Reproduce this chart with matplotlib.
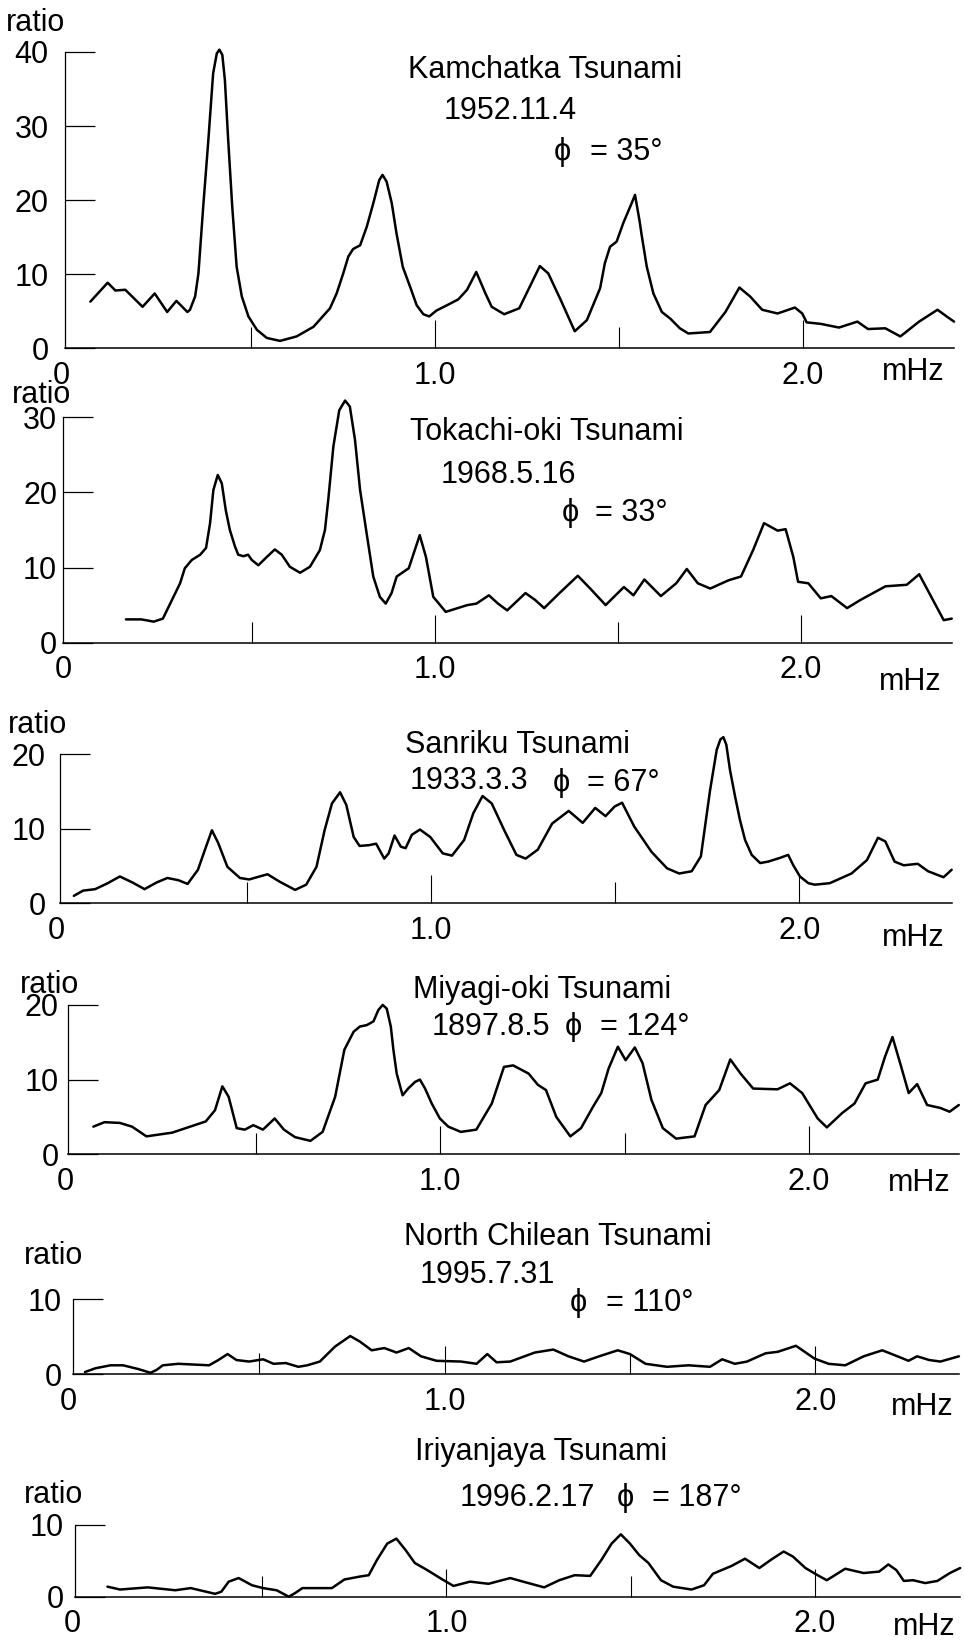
import matplotlib
matplotlib.use('Agg')
import matplotlib.pyplot as plt
from matplotlib.transforms import ScaledTranslation

plt.rcParams['font.family'] = ['Liberation Sans', 'DejaVu Sans']

W, H = 964, 1641

# ---------------- data (frequency in mHz, spectral ratio) ----------------
kam_f = [0.062, 0.109, 0.130, 0.157, 0.204, 0.237, 0.271, 0.296, 0.326, 0.333, 0.347, 0.356, 0.369,
         0.383, 0.396, 0.406, 0.413, 0.421, 0.428, 0.437, 0.448, 0.460, 0.474, 0.492, 0.515, 0.542,
         0.578, 0.623, 0.669, 0.714, 0.732, 0.750, 0.764, 0.777, 0.796, 0.814, 0.832, 0.848, 0.857,
         0.868, 0.882, 0.895, 0.912, 0.932, 0.950, 0.968, 0.984, 1.004, 1.032, 1.063, 1.087, 1.112,
         1.137, 1.154, 1.188, 1.229, 1.285, 1.308, 1.342, 1.380, 1.413, 1.449, 1.462, 1.476, 1.494,
         1.512, 1.535, 1.544, 1.556, 1.562, 1.576, 1.594, 1.617, 1.640, 1.666, 1.689, 1.748, 1.790,
         1.828, 1.857, 1.890, 1.932, 1.979, 1.999, 2.011, 2.049, 2.099, 2.149, 2.178, 2.225, 2.266,
         2.317, 2.367, 2.392, 2.412]
kam_r = [6.3, 8.85, 7.8, 7.9, 5.6, 7.4, 4.9, 6.4, 4.9, 5.2, 7.0, 10.1, 19.1,
         28.1, 37.1, 39.8, 40.3, 39.6, 36.2, 28.1, 19.1, 11.0, 7.0, 4.3, 2.5, 1.4,
         1.0, 1.6, 2.9, 5.4, 7.4, 10.1, 12.4, 13.4, 13.9, 16.4, 19.6, 22.7, 23.4,
         22.5, 19.6, 15.5, 11.0, 8.3, 5.8, 4.6, 4.3, 5.1, 5.8, 6.6, 7.9, 10.3,
         7.4, 5.6, 4.6, 5.4, 11.1, 10.1, 6.5, 2.3, 3.8, 8.1, 11.5, 13.7, 14.4,
         16.9, 19.6, 20.7, 17.3, 15.3, 11.0, 7.4, 4.9, 4.0, 2.7, 2.0, 2.2, 4.9,
         8.2, 7.0, 5.2, 4.7, 5.5, 4.7, 3.5, 3.3, 2.8, 3.6, 2.6, 2.7, 1.6,
         3.6, 5.2, 4.3, 3.6]

tok_f = [0.155, 0.197, 0.231, 0.256, 0.303, 0.316, 0.335, 0.358, 0.374, 0.385, 0.394, 0.406, 0.417,
         0.428, 0.439, 0.453, 0.462, 0.476, 0.489, 0.499, 0.517, 0.540, 0.562, 0.581, 0.603, 0.631,
         0.658, 0.685, 0.699, 0.708, 0.722, 0.738, 0.754, 0.767, 0.781, 0.795, 0.813, 0.831, 0.849,
         0.865, 0.881, 0.895, 0.928, 0.958, 0.975, 0.995, 1.029, 1.088, 1.113, 1.147, 1.172, 1.197,
         1.247, 1.273, 1.298, 1.340, 1.390, 1.424, 1.466, 1.516, 1.542, 1.572, 1.617, 1.659, 1.688,
         1.718, 1.752, 1.802, 1.836, 1.869, 1.899, 1.936, 1.958, 1.979, 1.992, 2.020, 2.054, 2.083,
         2.126, 2.163, 2.231, 2.289, 2.323, 2.356, 2.390, 2.412]
tok_r = [3.1, 3.1, 2.8, 3.2, 7.9, 9.9, 11.0, 11.7, 12.6, 15.9, 20.3, 22.3, 21.2,
         17.6, 15.0, 12.8, 11.7, 11.5, 11.7, 11.0, 10.3, 11.4, 12.4, 11.7, 10.1, 9.3,
         10.1, 12.3, 15.0, 19.0, 26.1, 30.9, 32.2, 31.4, 27.0, 20.3, 14.5, 8.8, 6.1,
         5.2, 6.6, 8.8, 9.9, 14.3, 11.4, 6.1, 4.1, 5.0, 5.2, 6.3, 5.2, 4.3,
         6.6, 5.7, 4.6, 6.6, 8.9, 7.2, 5.0, 7.4, 6.3, 8.4, 6.2, 7.9, 9.8,
         7.9, 7.2, 8.3, 8.8, 12.3, 15.9, 14.9, 15.1, 11.4, 8.1, 7.9, 5.9, 6.2,
         4.6, 5.7, 7.5, 7.7, 9.1, 6.1, 3.0, 3.2]

san_f = [0.030, 0.055, 0.088, 0.122, 0.155, 0.189, 0.222, 0.255, 0.284, 0.314, 0.339, 0.367, 0.389,
         0.405, 0.422, 0.447, 0.481, 0.506, 0.556, 0.589, 0.631, 0.661, 0.689, 0.711, 0.731, 0.753,
         0.770, 0.790, 0.806, 0.831, 0.851, 0.873, 0.885, 0.901, 0.918, 0.931, 0.948, 0.970, 0.998,
         1.032, 1.057, 1.090, 1.115, 1.140, 1.165, 1.199, 1.232, 1.257, 1.290, 1.329, 1.374, 1.412,
         1.446, 1.474, 1.499, 1.519, 1.552, 1.599, 1.641, 1.674, 1.708, 1.733, 1.758, 1.776, 1.786,
         1.794, 1.802, 1.812, 1.826, 1.839, 1.853, 1.871, 1.894, 1.916, 1.948, 1.970, 1.984, 2.002,
         2.025, 2.042, 2.083, 2.142, 2.184, 2.214, 2.234, 2.259, 2.284, 2.322, 2.350, 2.392, 2.414]
san_r = [1.0, 1.7, 1.9, 2.7, 3.6, 2.8, 1.9, 2.8, 3.4, 3.1, 2.6, 4.5, 7.6,
         9.8, 8.1, 4.9, 3.4, 3.2, 3.9, 2.9, 1.8, 2.5, 4.9, 9.8, 13.4, 14.9,
         13.2, 8.9, 7.7, 7.8, 8.0, 6.0, 6.7, 9.1, 7.6, 7.4, 9.2, 9.9, 8.9,
         6.7, 6.4, 8.5, 12.1, 14.4, 13.4, 9.8, 6.5, 6.0, 7.2, 10.7, 12.4, 10.8,
         12.8, 11.7, 13.0, 13.5, 10.3, 6.9, 4.7, 4.0, 4.3, 6.3, 15.2, 20.6, 22.0,
         22.3, 21.3, 17.9, 14.3, 11.2, 8.5, 6.5, 5.4, 5.6, 6.1, 6.5, 5.1, 3.6,
         2.7, 2.5, 2.7, 4.0, 5.8, 8.8, 8.3, 5.6, 5.1, 5.3, 4.3, 3.5, 4.5]

miy_f = [0.059, 0.089, 0.131, 0.164, 0.203, 0.273, 0.364, 0.389, 0.409, 0.426, 0.448, 0.470, 0.493,
         0.519, 0.551, 0.576, 0.606, 0.648, 0.681, 0.715, 0.740, 0.765, 0.782, 0.801, 0.819, 0.832,
         0.844, 0.855, 0.866, 0.873, 0.882, 0.898, 0.913, 0.932, 0.945, 0.959, 0.977, 0.999, 1.022,
         1.056, 1.098, 1.140, 1.173, 1.198, 1.240, 1.265, 1.287, 1.315, 1.353, 1.382, 1.415, 1.437,
         1.457, 1.482, 1.503, 1.528, 1.549, 1.573, 1.604, 1.640, 1.690, 1.720, 1.757, 1.787, 1.815,
         1.849, 1.915, 1.949, 1.982, 2.024, 2.049, 2.090, 2.124, 2.154, 2.187, 2.207, 2.227, 2.249,
         2.271, 2.294, 2.321, 2.357, 2.382, 2.407]
miy_r = [3.7, 4.3, 4.2, 3.7, 2.4, 2.9, 4.4, 5.9, 9.1, 7.7, 3.5, 3.3, 3.9,
         3.3, 4.8, 3.3, 2.3, 1.8, 3.0, 7.7, 14.0, 16.4, 17.1, 17.3, 17.8, 19.3,
         20.0, 19.5, 17.1, 14.0, 10.8, 7.9, 8.8, 9.7, 10.0, 8.8, 6.8, 4.8, 3.7,
         3.0, 3.3, 6.8, 11.7, 11.9, 10.8, 9.3, 8.6, 5.0, 2.4, 3.5, 6.4, 8.2,
         11.5, 14.4, 12.6, 14.3, 12.2, 7.3, 3.5, 2.1, 2.4, 6.6, 8.6, 12.7, 10.8,
         8.8, 8.7, 9.5, 8.2, 4.8, 3.6, 5.5, 6.8, 9.5, 10.0, 13.1, 15.7, 12.0,
         8.2, 9.4, 6.6, 6.2, 5.7, 6.6]

chi_f = [0.029, 0.057, 0.098, 0.132, 0.173, 0.206, 0.223, 0.239, 0.281, 0.364, 0.389, 0.414, 0.438,
         0.472, 0.510, 0.538, 0.571, 0.605, 0.629, 0.663, 0.704, 0.745, 0.770, 0.803, 0.837, 0.870,
         0.903, 0.936, 0.978, 1.044, 1.086, 1.115, 1.140, 1.177, 1.243, 1.293, 1.334, 1.376, 1.417,
         1.467, 1.500, 1.542, 1.600, 1.658, 1.716, 1.749, 1.783, 1.816, 1.866, 1.899, 1.948, 1.998,
         2.036, 2.081, 2.131, 2.181, 2.222, 2.252, 2.275, 2.308, 2.338, 2.388]
chi_r = [0.3, 0.8, 1.2, 1.2, 0.7, 0.2, 0.6, 1.2, 1.4, 1.2, 1.9, 2.7, 1.9,
         1.7, 2.0, 1.4, 1.5, 1.0, 1.2, 1.7, 3.7, 5.1, 4.4, 3.2, 3.5, 2.9,
         3.5, 2.4, 1.8, 1.7, 1.4, 2.7, 1.6, 1.7, 2.9, 3.3, 2.4, 1.7, 2.4,
         3.2, 2.7, 1.4, 1.0, 1.2, 1.0, 2.0, 1.4, 1.7, 2.8, 3.0, 3.8, 2.1,
         1.4, 1.2, 2.4, 3.2, 2.4, 1.8, 2.4, 1.9, 1.7, 2.4]

iri_f = [0.080, 0.114, 0.189, 0.264, 0.306, 0.339, 0.372, 0.389, 0.409, 0.436, 0.472, 0.502, 0.539,
         0.572, 0.589, 0.609, 0.647, 0.689, 0.723, 0.764, 0.789, 0.811, 0.839, 0.864, 0.889, 0.914,
         0.948, 0.989, 1.019, 1.064, 1.114, 1.173, 1.215, 1.265, 1.306, 1.348, 1.390, 1.420, 1.448,
         1.473, 1.498, 1.523, 1.548, 1.582, 1.615, 1.665, 1.699, 1.723, 1.774, 1.810, 1.849, 1.882,
         1.915, 1.940, 1.974, 2.007, 2.032, 2.082, 2.132, 2.174, 2.199, 2.221, 2.241, 2.266, 2.299,
         2.332, 2.366, 2.394]
iri_r = [1.4, 1.0, 1.3, 0.9, 1.2, 0.8, 0.4, 0.7, 2.1, 2.6, 1.6, 1.2, 0.9,
         0.0, 0.5, 1.2, 1.2, 1.2, 2.4, 2.8, 3.0, 5.1, 7.4, 8.1, 6.5, 4.7,
         3.7, 2.4, 1.5, 2.1, 1.8, 2.6, 2.0, 1.3, 2.3, 3.0, 2.9, 5.1, 7.4,
         8.7, 7.4, 5.8, 4.7, 2.3, 1.4, 1.0, 1.6, 3.2, 4.3, 5.3, 4.0, 5.2,
         6.3, 5.6, 4.0, 3.0, 2.3, 3.9, 3.3, 3.5, 4.5, 3.7, 2.2, 2.3, 1.9,
         2.2, 3.3, 4.0]

freqs = [kam_f, tok_f, san_f, miy_f, chi_f, iri_f]
ratios = [kam_r, tok_r, san_r, miy_r, chi_r, iri_r]
titles = ['Kamchatka Tsunami', 'Tokachi-oki Tsunami', 'Sanriku Tsunami',
          'Miyagi-oki Tsunami', 'North Chilean Tsunami', 'Iriyanjaya Tsunami']
dates = ['1952.11.4', '1968.5.16', '1933.3.3', '1897.8.5', '1995.7.31', '1996.2.17']
azimuths = [35, 33, 67, 124, 110, 187]
yticks_list = [[0, 10, 20, 30, 40], [0, 10, 20, 30], [0, 10, 20], [0, 10, 20], [0, 10], [0, 10]]
xtick_major = [0, 1.0, 2.0]
xtick_labels = ['0', '1.0', '2.0']
xtick_minor = [0.5, 1.5]

# ---------------- layout (pixels) ----------------
layout = [
    dict(left=64.7, zero=67.6, slope=367.5, right=954, base=348.3, ppu=7.41, ytop=42, ypad=11.5,
         title=(545, 70), date=(510, 111), phi=(562, 152), eq=(590, 152), ratio=(36, 23), mhz=(913, 372)),
    dict(left=63.4, zero=69.2, slope=365.9, right=952, base=642.7, ppu=7.52, ytop=33, ypad=4.5,
         title=(547, 432), date=(508, 475), phi=(570, 513), eq=(595, 513), ratio=(42, 395), mhz=(910, 682)),
    dict(left=59.7, zero=62.8, slope=368.2, right=952, base=903.3, ppu=7.45, ytop=23, ypad=10,
         title=(517, 745), date=(469, 781), phi=(561, 783), eq=(587, 783), ratio=(38, 725), mhz=(913, 938)),
    dict(left=67.6, zero=71.6, slope=368.6, right=959, base=1154.3, ppu=7.47, ytop=21, ypad=6.5,
         title=(542, 990), date=(491, 1027), phi=(573, 1027), eq=(600, 1027), ratio=(50, 985), mhz=(919, 1183)),
    dict(left=72.5, zero=74.2, slope=370.5, right=959, base=1374.3, ppu=7.5, ytop=11, ypad=8,
         title=(558, 1237), date=(487, 1275), phi=(578, 1303), eq=(606, 1303), ratio=(53, 1256), mhz=(922, 1407)),
    dict(left=75.0, zero=78.0, slope=368.5, right=960, base=1596.7, ppu=7.17, ytop=11, ypad=8,
         title=(541, 1452), date=(527, 1498), phi=(625, 1498), eq=(652, 1498), ratio=(54, 1495), mhz=(924, 1627)),
]

FS = 22
fig = plt.figure(figsize=(W / 100, H / 100), dpi=100)


def fx(x):
    return x / W


def fy(y):
    return 1 - y / H


for i, L in enumerate(layout):
    ax = fig.add_axes([fx(L['left']), fy(L['base']), (L['right'] - L['left']) / W, L['ytop'] * L['ppu'] / H])
    ax.patch.set_visible(False)
    x0 = (L['left'] - L['zero']) / L['slope']
    x1 = (L['right'] - L['zero']) / L['slope']
    ax.set_xlim(x0, x1)
    ax.set_ylim(0, L['ytop'])
    for s in ['top', 'right']:
        ax.spines[s].set_visible(False)
    ax.spines['left'].set_bounds(0, yticks_list[i][-1])
    ax.spines['left'].set_linewidth(0.9)
    ax.spines['bottom'].set_linewidth(1.1)

    ax.set_yticks(yticks_list[i])
    ax.set_yticklabels([str(v) for v in yticks_list[i]], fontsize=FS)
    ax.tick_params(axis='y', direction='in', length=21.5, width=0.9, pad=L['ypad'])

    ax.set_xticks(xtick_major)
    ax.set_xticklabels(xtick_labels, fontsize=FS)
    ax.set_xticks(xtick_minor, minor=True)
    ax.tick_params(axis='x', which='major', direction='in', length=20, width=0.8, pad=9)
    ax.tick_params(axis='x', which='minor', direction='in', length=15, width=0.8)
    t0 = ax.xaxis.get_major_ticks()[0]
    t0.tick1line.set_visible(False)
    t0.label1.set_transform(t0.label1.get_transform() + ScaledTranslation(-0.06, 0, fig.dpi_scale_trans))

    ax.plot(freqs[i], ratios[i], color='black', lw=1.8, clip_on=False,
            solid_joinstyle='round', solid_capstyle='round')

    fig.text(fx(L['title'][0]), fy(L['title'][1]), titles[i], ha='center', va='center', fontsize=FS)
    fig.text(fx(L['date'][0]), fy(L['date'][1]), dates[i], ha='center', va='center', fontsize=FS)
    fig.text(fx(L['phi'][0]), fy(L['phi'][1]), '\u03d5', ha='center', va='center', fontsize=FS)
    fig.text(fx(L['eq'][0]), fy(L['eq'][1]), '= %d\u00b0' % azimuths[i], ha='left', va='center', fontsize=FS)
    fig.text(fx(L['ratio'][0]), fy(L['ratio'][1]), 'ratio', ha='center', va='center', fontsize=FS)
    fig.text(fx(L['mhz'][0]), fy(L['mhz'][1]), 'mHz', ha='center', va='center', fontsize=FS)

fig.savefig('out.png', dpi=100)
